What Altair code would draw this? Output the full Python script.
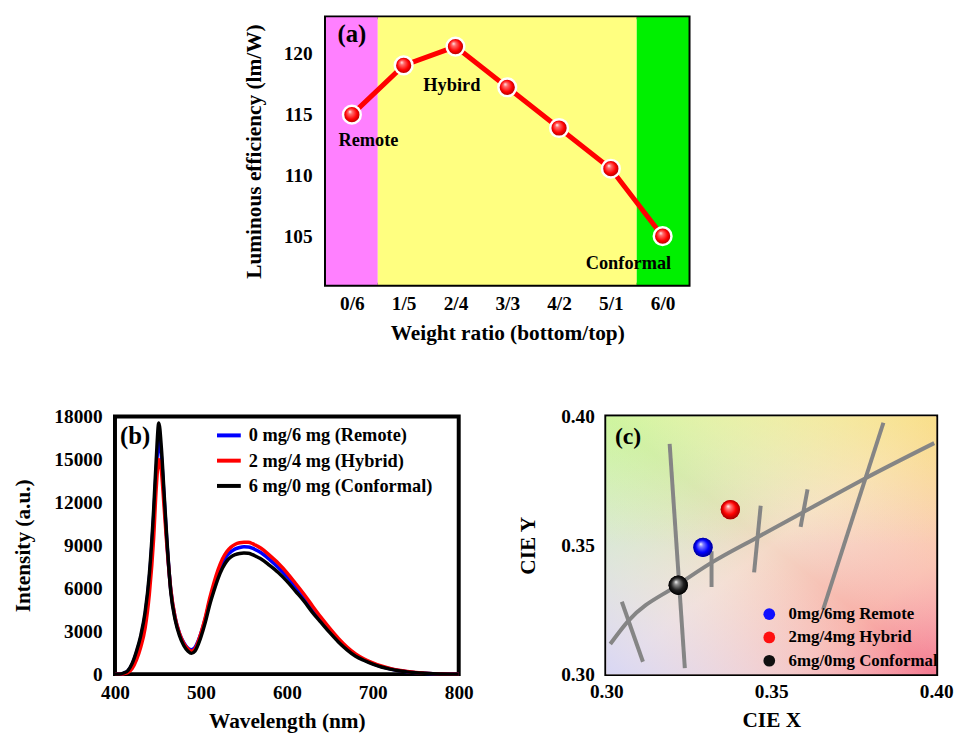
import altair as alt
import pandas as pd

FONT = "Liberation Serif"

# ---------------- Panel (a) ----------------
ratios = ["0/6", "1/5", "2/4", "3/3", "4/2", "5/1", "6/0"]
efficiency = [115.0, 119.05, 120.6, 117.25, 113.9, 110.55, 105.0]
a_ydomain = [101.0, 123.0]
band_start = [-0.5, 0.5, 5.5]
band_end = [0.5, 5.5, 6.5]
band_names = ["Remote", "Hybrid", "Conformal"]
band_colors = ["#ff80ff", "#ffff80", "#00f000"]
a_notes = ["(a)", "Remote", "Hybird", "Conformal"]
a_note_x = [0.0, 0.32, 1.93, 5.34]
a_note_y = [121.6, 112.9, 117.4, 102.8]
a_note_size = [25, 18.5, 18.5, 18.5]

# ---------------- Panel (b) ----------------
wavelength = [400, 405, 410, 415, 420, 425, 430, 435, 440, 445,
              448, 451, 454, 457,
              460, 465, 470, 475, 480, 485,
              489, 493, 497,
              500, 505, 510, 515, 520, 525, 530, 535, 540, 545, 550, 555, 560, 565, 570,
              580, 590, 600, 610, 620, 630, 640, 650, 660, 670, 680, 690, 700, 710, 720,
              730, 740, 750, 760, 770, 780, 790, 800]
remote = [0, 0, 60, 220, 700, 1500, 2550, 4100, 6700, 11000,
          14200, 16300, 15200, 12500,
          9600, 5850, 3950, 2850, 2200, 1800,
          1700, 1850, 2350,
          2850, 3850, 5050, 6100, 7000, 7700, 8250, 8560, 8750, 8850, 8900, 8890, 8800, 8650, 8480,
          8000, 7450, 6830, 6100, 5350, 4520, 3770, 3050, 2380, 1800, 1330, 1000, 740, 530, 375,
          255, 170, 105, 62, 32, 11, 0, 0]
hybrid = [0, 0, 30, 120, 400, 1000, 1900, 3200, 5600, 9500,
          13000, 15000, 14200, 11800,
          9300, 5900, 3950, 2850, 2150, 1750,
          1600, 1750, 2300,
          2850, 3950, 5250, 6350, 7300, 8050, 8550, 8880, 9080, 9180, 9220, 9210, 9120, 8970, 8800,
          8300, 7750, 7100, 6350, 5580, 4750, 3950, 3200, 2500, 1900, 1420, 1060, 790, 570, 400,
          275, 185, 115, 70, 35, 12, 0, 0]
conformal = [0, 0, 80, 250, 750, 1600, 2700, 4300, 7000, 11500,
             15000, 17560, 15800, 12800,
             9800, 5700, 3800, 2700, 2000, 1600,
             1450, 1600, 2100,
             2600, 3600, 4800, 5800, 6700, 7400, 7900, 8200, 8350, 8430, 8460, 8450, 8350, 8200, 8050,
             7600, 7100, 6500, 5800, 5100, 4300, 3600, 2900, 2250, 1700, 1250, 950, 700, 500, 350,
             240, 160, 100, 60, 30, 10, 0, 0]
b_series = ["0 mg/6 mg (Remote)", "2 mg/4 mg (Hybrid)", "6 mg/0 mg (Conformal)"]
b_colors = ["#0000ff", "#ff0000", "#000000"]
b_xticks = [400, 500, 600, 700, 800]
b_yticks = [0, 3000, 6000, 9000, 12000, 15000, 18000]
b_note = ["(b)"]
b_note_x = [423.4]
b_note_y = [16640]

# ---------------- Panel (c) ----------------
cie_domain = [0.30, 0.40]
cie_ticks = [0.30, 0.35, 0.40]
cie_labels = ["0mg/6mg Remote", "2mg/4mg Hybrid", "6mg/0mg Conformal"]
cie_x = [0.3293, 0.3376, 0.3218]
cie_y = [0.3492, 0.3639, 0.3345]
cie_colors = ["#1010ff", "#ff1010", "#101010"]
locus_x = [0.3012, 0.3066, 0.3215, 0.3319, 0.3453, 0.3597, 0.3786, 0.3994]
locus_y = [0.3117, 0.3206, 0.3345, 0.3433, 0.3528, 0.3629, 0.3761, 0.3897]
iso_x1 = [0.3047, 0.3192, 0.3319, 0.3468, 0.3610, 0.3840]
iso_y1 = [0.3281, 0.3894, 0.3477, 0.3654, 0.3717, 0.3976]
iso_x2 = [0.3111, 0.3238, 0.3319, 0.3448, 0.3589, 0.3657]
iso_y2 = [0.3048, 0.3023, 0.3338, 0.3395, 0.3572, 0.3250]
c_note = ["(c)"]
c_note_x = [0.3066]
c_note_y = [0.3919]


def ball(light, mid, dark):
    return alt.RadialGradient(
        gradient="radial", x1=0.38, y1=0.32, r1=0.0, x2=0.5, y2=0.5, r2=0.5,
        stops=[alt.GradientStop(offset=0.0, color="#ffffff"),
               alt.GradientStop(offset=0.22, color=light),
               alt.GradientStop(offset=0.65, color=mid),
               alt.GradientStop(offset=1.0, color=dark)])


AX_LABEL = dict(labelFont=FONT, labelFontWeight="bold", labelFontSize=19.5, labelColor="black",
                titleFont=FONT, titleFontWeight="bold", titleFontSize=21.5, titleColor="black",
                domain=False, grid=False, ticks=False, labelFlush=False)

# ---------- chart (a) ----------
label_expr = "[" + ",".join("'%s'" % r for r in ratios) + "][datum.value]"
ax_a_x = alt.Axis(values=list(range(len(ratios))), labelExpr=label_expr,
                  title="Weight ratio (bottom/top)", labelPadding=10, titlePadding=10, **AX_LABEL)
ax_a_y = alt.Axis(values=[105, 110, 115, 120], title="Luminous efficiency (lm/W)",
                  labelPadding=14, titlePadding=18, **AX_LABEL)
sx_a = alt.Scale(domain=[-0.5, len(ratios) - 0.5], nice=False, zero=False)
sy_a = alt.Scale(domain=a_ydomain, nice=False, zero=False)

df_a = pd.DataFrame({"idx": list(range(len(ratios))), "ratio": ratios, "eff": efficiency})
df_bands = pd.DataFrame({"start": band_start, "end": band_end, "name": band_names, "col": band_colors})
df_a_notes = pd.DataFrame({"t": a_notes, "x": a_note_x, "y": a_note_y, "s": a_note_size})

bands = alt.Chart(df_bands).mark_rect().encode(
    x=alt.X("start:Q", scale=sx_a, axis=ax_a_x),
    x2="end:Q",
    fill=alt.Fill("col:N", scale=None, legend=None),
)
a_line = alt.Chart(df_a).mark_line(color="#ff0000", strokeWidth=5).encode(
    x=alt.X("idx:Q", scale=sx_a, axis=ax_a_x),
    y=alt.Y("eff:Q", scale=sy_a, axis=ax_a_y),
)
a_balls = alt.Chart(df_a).mark_circle(
    fill=ball("#ff7070", "#ff0000", "#a00000"), stroke="white", strokeWidth=2.5,
    size=320, opacity=1).encode(
    x=alt.X("idx:Q", scale=sx_a, axis=ax_a_x),
    y=alt.Y("eff:Q", scale=sy_a, axis=ax_a_y),
)
a_text = alt.Chart(df_a_notes).mark_text(font=FONT, fontWeight="bold", color="black").encode(
    x=alt.X("x:Q", scale=sx_a, axis=ax_a_x),
    y=alt.Y("y:Q", scale=sy_a, axis=ax_a_y),
    text="t:N",
    size=alt.Size("s:Q", scale=None),
)
chart_a = alt.layer(bands, a_line, a_balls, a_text).properties(width=366, height=270)

spacer = alt.Chart(pd.DataFrame({"v": [0]})).mark_point(opacity=0).encode(
    x=alt.value(0), y=alt.value(0)
).properties(width=125, height=10, view=alt.ViewBackground(stroke="transparent"))

# ---------- chart (b) ----------
rows = []
for name, vals in zip(b_series, [remote, hybrid, conformal]):
    for w, v in zip(wavelength, vals):
        rows.append({"wl": w, "I": v, "series": name})
df_b = pd.DataFrame(rows)
sx_b = alt.Scale(domain=[400, 800], nice=False, zero=False)
sy_b = alt.Scale(domain=[0, 18000], nice=False)
ax_b_x = alt.Axis(values=b_xticks, format="d", title="Wavelength (nm)", labelPadding=10,
                  titlePadding=8, **AX_LABEL)
ax_b_y = alt.Axis(values=b_yticks, format="d", title="Intensity (a.u.)", labelPadding=13,
                  titlePadding=20, **AX_LABEL)
b_lines = alt.Chart(df_b).mark_line(strokeWidth=3.5, interpolate="monotone").encode(
    x=alt.X("wl:Q", scale=sx_b, axis=ax_b_x),
    y=alt.Y("I:Q", scale=sy_b, axis=ax_b_y),
    color=alt.Color("series:N", scale=alt.Scale(domain=b_series, range=b_colors),
                    legend=alt.Legend(title=None, orient="none", legendX=101, legendY=5,
                                      symbolType="stroke", symbolSize=576, symbolStrokeWidth=4,
                                      labelFont=FONT, labelFontWeight="bold", labelFontSize=18.5,
                                      labelColor="black", labelOffset=6, rowPadding=1.5,
                                      labelLimit=400, padding=0)),
)
b_text = alt.Chart(pd.DataFrame({"t": b_note, "x": b_note_x, "y": b_note_y})).mark_text(
    font=FONT, fontWeight="bold", fontSize=25, color="black").encode(
    x=alt.X("x:Q", scale=sx_b, axis=ax_b_x),
    y=alt.Y("y:Q", scale=sy_b, axis=ax_b_y),
    text="t:N",
)
chart_b = alt.layer(b_lines, b_text).properties(width=347, height=260)

# ---------- chart (c) ----------
sx_c = alt.Scale(domain=cie_domain, nice=False, zero=False)
sy_c = alt.Scale(domain=cie_domain, nice=False, zero=False)
ax_c_x = alt.Axis(values=cie_ticks, format=".2f", title="CIE X", labelPadding=9,
                  titlePadding=8, **AX_LABEL)
ax_c_y = alt.Axis(values=cie_ticks, format=".2f", title="CIE Y", labelPadding=12,
                  titlePadding=21, **AX_LABEL)
df_bg = pd.DataFrame({"x0": [cie_domain[0]], "x1": [cie_domain[1]],
                      "y0": [cie_domain[0]], "y1": [cie_domain[1]]})
grad_main = alt.LinearGradient(
    gradient="linear", x1=0, y1=0, x2=1, y2=1,
    stops=[alt.GradientStop(offset=0.0, color="#a8f0a8"),
           alt.GradientStop(offset=0.5, color="#f4d8c6"),
           alt.GradientStop(offset=0.78, color="#f8b0a8"),
           alt.GradientStop(offset=1.0, color="#f47890")])
grad_cross = alt.LinearGradient(
    gradient="linear", x1=0, y1=1, x2=1, y2=0,
    stops=[alt.GradientStop(offset=0.0, color="rgba(214,214,246,0.95)"),
           alt.GradientStop(offset=0.5, color="rgba(255,255,255,0)"),
           alt.GradientStop(offset=1.0, color="rgba(252,194,122,0.95)")])
grad_top = alt.LinearGradient(
    gradient="linear", x1=0.5, y1=0, x2=0.5, y2=0.5,
    stops=[alt.GradientStop(offset=0.0, color="rgba(246,250,150,0.5)"),
           alt.GradientStop(offset=1.0, color="rgba(246,250,150,0)")])
bg_layers = []
for g in [grad_main, grad_cross, grad_top]:
    bg_layers.append(alt.Chart(df_bg).mark_rect(fill=g).encode(
        x=alt.X("x0:Q", scale=sx_c, axis=ax_c_x), x2="x1:Q",
        y=alt.Y("y0:Q", scale=sy_c, axis=ax_c_y), y2="y1:Q"))
df_locus = pd.DataFrame({"x": locus_x, "y": locus_y})
locus = alt.Chart(df_locus).mark_line(color="#858585", strokeWidth=4, interpolate="monotone",
                                      clip=True).encode(
    x=alt.X("x:Q", scale=sx_c, axis=ax_c_x), y=alt.Y("y:Q", scale=sy_c, axis=ax_c_y))
df_iso = pd.DataFrame({"x1": iso_x1, "y1": iso_y1, "x2": iso_x2, "y2": iso_y2})
iso = alt.Chart(df_iso).mark_rule(color="#858585", strokeWidth=4, clip=True).encode(
    x=alt.X("x1:Q", scale=sx_c, axis=ax_c_x), y=alt.Y("y1:Q", scale=sy_c, axis=ax_c_y),
    x2="x2:Q", y2="y2:Q")
df_cie = pd.DataFrame({"label": cie_labels, "x": cie_x, "y": cie_y})
cie_leg = alt.Chart(df_cie).mark_circle(size=380, opacity=1).encode(
    x=alt.X("x:Q", scale=sx_c, axis=ax_c_x), y=alt.Y("y:Q", scale=sy_c, axis=ax_c_y),
    color=alt.Color("label:N", scale=alt.Scale(domain=cie_labels, range=cie_colors),
                    legend=alt.Legend(title=None, orient="none", legendX=156, legendY=191,
                                      symbolType="circle", symbolSize=140, symbolOpacity=1,
                                      labelFont=FONT, labelFontWeight="bold", labelFontSize=17,
                                      labelColor="black", labelOffset=11, rowPadding=5.5,
                                      labelLimit=400, padding=0)),
)
ball_fills = [ball("#8080ff", "#0000ff", "#000090"),
              ball("#ff8080", "#ff0000", "#a00000"),
              ball("#909090", "#202020", "#000000")]
cie_balls = []
for i, lab in enumerate(cie_labels):
    cie_balls.append(
        alt.Chart(df_cie).transform_filter(alt.datum.label == lab).mark_circle(
            fill=ball_fills[i], size=380, opacity=1).encode(
            x=alt.X("x:Q", scale=sx_c, axis=ax_c_x), y=alt.Y("y:Q", scale=sy_c, axis=ax_c_y)))
c_text = alt.Chart(pd.DataFrame({"t": c_note, "x": c_note_x, "y": c_note_y})).mark_text(
    font=FONT, fontWeight="bold", fontSize=24, color="black").encode(
    x=alt.X("x:Q", scale=sx_c, axis=ax_c_x), y=alt.Y("y:Q", scale=sy_c, axis=ax_c_y), text="t:N")
chart_c = alt.layer(*bg_layers, locus, iso, cie_leg, *cie_balls, c_text).properties(width=333, height=260)

top = alt.hconcat(spacer, chart_a, spacing=0)
bottom = alt.hconcat(chart_b, chart_c, spacing=40).resolve_scale(
    color="independent").resolve_legend(color="independent")
chart = alt.vconcat(top, bottom, spacing=59).resolve_scale(
    color="independent", fill="independent").resolve_legend(
    color="independent", fill="independent").properties(
    padding={"left": 2, "top": 1, "right": 0, "bottom": 0}
).configure(font=FONT).configure_view(stroke="black", strokeWidth=4)

chart.save("out.html", embed_options={"renderer": "svg", "actions": False})
